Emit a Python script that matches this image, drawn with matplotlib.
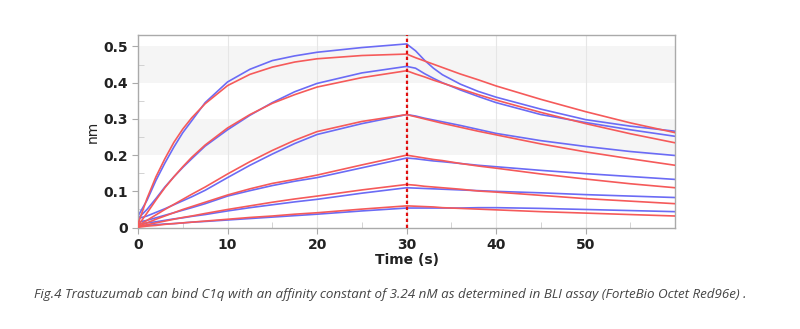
import numpy as np
import matplotlib.pyplot as plt
from matplotlib.ticker import MultipleLocator

# ==================== 数据 ====================
# 时间点 (s)
t = [0, 1, 2, 3, 4, 5, 6, 7.5, 10, 12.5, 15, 17.5, 20, 25, 30,
     31, 32, 33, 34, 36, 38, 40, 45, 50, 55, 60]

# 实测曲线 (蓝)
blue_1 = [0.032, 0.075, 0.130, 0.178, 0.222, 0.262, 0.295, 0.345, 0.402, 0.437, 0.461, 0.474, 0.484, 0.497, 0.507,
          0.488, 0.462, 0.440, 0.422, 0.396, 0.376, 0.360, 0.327, 0.298, 0.280, 0.266]
blue_2 = [0.025, 0.050, 0.080, 0.112, 0.140, 0.166, 0.190, 0.225, 0.270, 0.310, 0.345, 0.375, 0.398, 0.427, 0.445,
          0.440, 0.425, 0.412, 0.400, 0.380, 0.362, 0.345, 0.312, 0.290, 0.270, 0.252]
blue_3 = [0.025, 0.032, 0.042, 0.052, 0.063, 0.074, 0.085, 0.103, 0.138, 0.172, 0.203, 0.232, 0.257, 0.287, 0.312,
          0.308, 0.302, 0.297, 0.292, 0.282, 0.271, 0.260, 0.240, 0.224, 0.210, 0.199]
blue_4 = [0.015, 0.020, 0.027, 0.034, 0.041, 0.048, 0.055, 0.066, 0.087, 0.102, 0.116, 0.128, 0.138, 0.165, 0.192,
          0.190, 0.187, 0.184, 0.182, 0.177, 0.172, 0.168, 0.158, 0.149, 0.141, 0.133]
blue_5 = [0.010, 0.013, 0.016, 0.020, 0.024, 0.027, 0.031, 0.036, 0.046, 0.055, 0.063, 0.071, 0.078, 0.095, 0.110,
          0.109, 0.108, 0.107, 0.106, 0.104, 0.102, 0.100, 0.096, 0.091, 0.087, 0.083]
blue_6 = [0.005, 0.006, 0.008, 0.010, 0.011, 0.013, 0.015, 0.017, 0.021, 0.025, 0.029, 0.033, 0.037, 0.046, 0.054,
          0.054, 0.054, 0.054, 0.054, 0.054, 0.055, 0.055, 0.053, 0.050, 0.047, 0.044]

# 拟合曲线 (红)
red_1 = [0.010, 0.080, 0.140, 0.190, 0.235, 0.272, 0.303, 0.342, 0.392, 0.423, 0.443, 0.457, 0.466, 0.475, 0.479,
         0.469, 0.460, 0.451, 0.442, 0.424, 0.408, 0.391, 0.354, 0.320, 0.289, 0.262]
red_2 = [0.005, 0.040, 0.076, 0.110, 0.140, 0.168, 0.194, 0.228, 0.275, 0.312, 0.343, 0.367, 0.388, 0.414, 0.433,
         0.424, 0.416, 0.407, 0.399, 0.383, 0.367, 0.352, 0.318, 0.287, 0.259, 0.234]
red_3 = [0.005, 0.020, 0.035, 0.050, 0.064, 0.078, 0.092, 0.112, 0.148, 0.182, 0.213, 0.241, 0.265, 0.293, 0.312,
         0.306, 0.300, 0.294, 0.288, 0.277, 0.266, 0.256, 0.231, 0.209, 0.190, 0.172]
red_4 = [0.003, 0.013, 0.023, 0.032, 0.041, 0.050, 0.058, 0.070, 0.090, 0.107, 0.122, 0.133, 0.145, 0.173, 0.200,
         0.196, 0.192, 0.188, 0.185, 0.177, 0.170, 0.164, 0.148, 0.134, 0.121, 0.110]
red_5 = [0.002, 0.008, 0.013, 0.018, 0.023, 0.028, 0.032, 0.039, 0.050, 0.060, 0.070, 0.079, 0.087, 0.104, 0.119,
         0.117, 0.114, 0.112, 0.110, 0.106, 0.101, 0.098, 0.089, 0.080, 0.073, 0.066]
red_6 = [0.001, 0.004, 0.006, 0.009, 0.011, 0.013, 0.015, 0.018, 0.023, 0.028, 0.032, 0.037, 0.041, 0.051, 0.060,
         0.059, 0.058, 0.057, 0.055, 0.053, 0.051, 0.049, 0.044, 0.040, 0.036, 0.032]

blue_curves = [blue_1, blue_2, blue_3, blue_4, blue_5, blue_6]
red_curves = [red_1, red_2, red_3, red_4, red_5, red_6]

x_ticks = [0, 10, 20, 30, 40, 50]
y_ticks = [0, 0.1, 0.2, 0.3, 0.4, 0.5]
y_tick_labels = ['0', '0.1', '0.2', '0.3', '0.4', '0.5']
switch_time = 30

caption = ('Fig.4 Trastuzumab can bind C1q with an affinity constant of 3.24 nM '
           'as determined in BLI assay (ForteBio Octet Red96e) .')

# ==================== 绘图 ====================
fig = plt.figure(figsize=(8, 3.29), dpi=100)
ax = fig.add_axes([0.1725, 0.306, 0.6715, 0.588])

# 背景灰色条带
for y0 in [0.2, 0.4]:
    ax.axhspan(y0, y0 + 0.1, color='#f5f5f5', zorder=0, lw=0)

for xv in x_ticks[1:]:
    ax.axvline(xv, color='#e6e6e6', lw=0.8, zorder=0.5)

for b, r in zip(blue_curves, red_curves):
    ax.plot(t, b, color='#6b6bf5', lw=1.2, zorder=2)
    ax.plot(t, r, color='#f55a5a', lw=1.2, zorder=3)

ax.axvline(switch_time, color='#e01010', lw=1.6, ls=(0, (1.5, 1.2)), zorder=4)

ax.set_xlim(0, 60)
ax.set_ylim(-0.002, 0.532)
ax.set_xticks(x_ticks)
ax.set_yticks(y_ticks)
ax.set_yticklabels(y_tick_labels)
ax.xaxis.set_minor_locator(MultipleLocator(5))
ax.yaxis.set_minor_locator(MultipleLocator(0.05))
ax.tick_params(which='major', length=4, color='#aaaaaa', labelsize=10,
               labelcolor='#222222', pad=3)
ax.tick_params(which='minor', direction='in', length=4, color='#cccccc')
for lab in ax.get_xticklabels() + ax.get_yticklabels():
    lab.set_fontweight('bold')

for s in ax.spines.values():
    s.set_color('#aaaaaa')
    s.set_linewidth(1.0)

ax.set_xlabel('Time (s)', fontsize=10, fontweight='bold', color='#222222', labelpad=1)
ax.set_ylabel('nm', fontsize=10, color='#222222', labelpad=3)

fig.text(0.4875, 0.105, caption, ha='center', va='center', fontsize=9.6,
         style='italic', family='Open Sans', color='#444444')

plt.savefig('out.png', dpi=100)
